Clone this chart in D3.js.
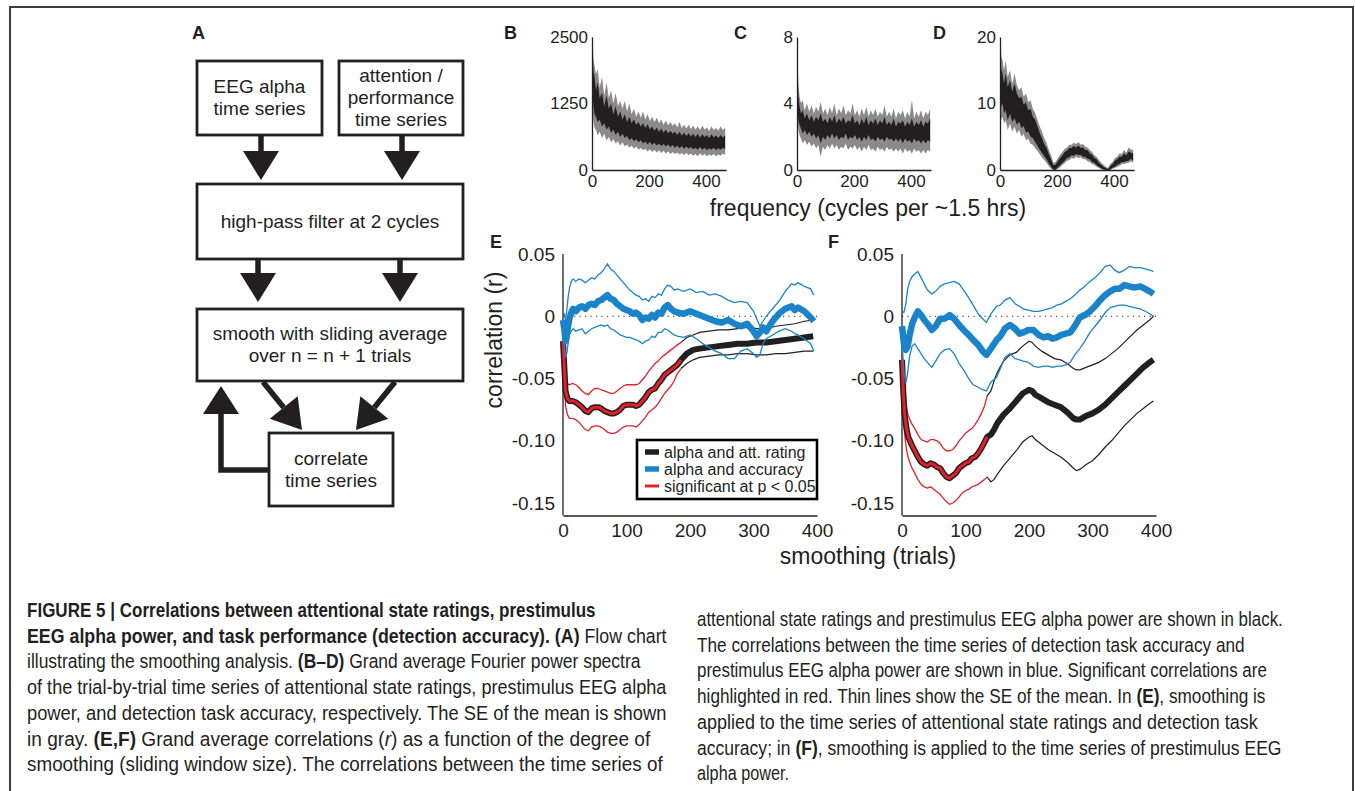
<!DOCTYPE html>
<html>
<head>
<meta charset="utf-8">
<script src="https://cdnjs.cloudflare.com/ajax/libs/d3/7.8.5/d3.min.js"></script>
<style>
  body { margin: 0; background: #fff; }
  svg { display: block; font-family: "Liberation Sans", Arial, sans-serif; }
</style>
</head>
<body>
<script>
// ---- spectra (B-D): frequency samples and envelopes (gray = SE, black = mean band)
var specFreq = [0, 2, 5, 9, 14, 20, 27, 35, 43, 51, 59, 67, 75, 83, 91, 99, 107, 115, 123, 131, 139, 147, 155, 163, 171, 179, 187, 195, 203, 211,
                219, 227, 235, 243, 251, 259, 267, 275, 283, 291, 299, 307, 315, 323, 331, 339, 347, 355, 363, 371, 379, 387, 395, 403, 411,
                419, 427, 435, 443, 451, 459, 467];

var bGrayHi  = [2500, 2450, 2100, 1950, 1800, 1900, 1550, 1750, 1400, 1650, 1350, 1500, 1250, 1450, 1200, 1300, 1150, 1300, 1100, 1250,
                1050, 1150, 1000, 1100, 980, 1100, 950, 1050, 920, 1000, 900, 980, 880, 950, 850, 930, 840, 900, 830, 880,
                800, 900, 790, 850, 780, 850, 770, 830, 760, 820, 750, 830, 760, 800, 740, 820, 750, 790, 740, 820, 750, 800];
var bBlackHi = [2450, 2250, 1850, 1750, 1500, 1650, 1350, 1450, 1200, 1400, 1150, 1250, 1050, 1200, 1000, 1100, 950, 1050, 900, 1000,
                880, 950, 850, 900, 820, 880, 790, 860, 760, 820, 740, 800, 720, 780, 700, 760, 690, 740, 680, 720,
                660, 720, 650, 700, 640, 690, 630, 680, 620, 680, 610, 670, 620, 660, 600, 670, 610, 650, 600, 660, 610, 650];
var bBlackLo = [1900, 1500, 1200, 1050, 1000, 900, 950, 820, 880, 760, 820, 700, 760, 660, 720, 620, 680, 600, 640, 560,
                600, 540, 580, 520, 560, 500, 540, 480, 530, 470, 510, 460, 500, 450, 490, 440, 480, 430, 470, 420,
                460, 410, 450, 400, 440, 400, 430, 390, 420, 380, 430, 380, 420, 370, 410, 380, 420, 370, 410, 380, 420, 390];
var bGrayLo  = [1600, 1200, 900, 800, 750, 650, 720, 600, 680, 560, 620, 520, 580, 500, 540, 460, 520, 440, 480, 420,
                460, 400, 440, 380, 420, 370, 400, 350, 390, 340, 380, 330, 370, 320, 360, 310, 350, 300, 340, 300,
                330, 290, 320, 280, 320, 280, 310, 270, 300, 260, 310, 270, 300, 260, 290, 270, 300, 260, 290, 270, 310, 280];

var cGrayHi  = [8, 6.5, 5.2, 4.4, 4.0, 4.2, 3.6, 4.0, 3.5, 3.9, 3.4, 3.8, 3.5, 4.1, 3.4, 3.7, 3.3, 3.8, 3.4, 4.0,
                3.3, 3.7, 3.4, 3.9, 3.3, 3.6, 3.4, 4.0, 3.3, 3.6, 3.2, 3.7, 3.3, 3.8, 3.2, 3.6, 3.3, 3.7, 3.2, 3.5,
                3.3, 3.9, 3.2, 3.5, 3.2, 3.7, 3.1, 3.5, 3.3, 3.6, 3.1, 3.5, 3.2, 4.2, 3.1, 3.5, 3.2, 3.6, 3.1, 3.5, 3.3, 3.7];
var cBlackHi = [7.8, 5.6, 4.4, 3.8, 3.4, 3.6, 3.1, 3.4, 3.0, 3.3, 2.9, 3.2, 3.0, 3.4, 2.9, 3.1, 2.8, 3.2, 2.9, 3.3,
                2.8, 3.1, 2.9, 3.2, 2.8, 3.0, 2.9, 3.3, 2.8, 3.0, 2.7, 3.1, 2.8, 3.2, 2.7, 3.0, 2.8, 3.1, 2.7, 3.0,
                2.8, 3.2, 2.7, 2.9, 2.7, 3.1, 2.6, 2.9, 2.8, 3.0, 2.6, 2.9, 2.7, 3.1, 2.6, 2.9, 2.7, 3.0, 2.6, 2.9, 2.8, 3.1];
var cBlackLo = [5.5, 3.8, 3.0, 2.7, 2.5, 2.2, 2.4, 2.1, 2.3, 2.0, 2.2, 1.9, 2.1, 1.6, 2.0, 1.8, 2.1, 1.9, 2.2, 1.9,
                2.1, 1.8, 2.0, 1.9, 2.2, 1.8, 2.0, 1.9, 2.1, 1.8, 2.0, 1.7, 2.0, 1.8, 2.1, 1.8, 1.9, 1.7, 2.0, 1.8,
                1.9, 1.7, 2.0, 1.8, 1.9, 1.7, 1.9, 1.7, 1.9, 1.6, 1.9, 1.7, 1.8, 1.6, 1.9, 1.7, 1.8, 1.6, 1.8, 1.6, 1.8, 1.7];
var cGrayLo  = [4.5, 3.0, 2.4, 2.1, 1.9, 1.6, 1.8, 1.5, 1.7, 1.4, 1.6, 1.3, 1.5, 0.8, 1.4, 1.2, 1.5, 1.3, 1.6, 1.3,
                1.5, 1.2, 1.4, 1.3, 1.6, 1.2, 1.4, 1.3, 1.5, 1.2, 1.4, 1.1, 1.4, 1.2, 1.5, 1.2, 1.3, 1.1, 1.4, 1.2,
                1.3, 1.1, 1.4, 1.2, 1.3, 1.1, 1.3, 1.1, 1.3, 1.0, 1.3, 1.1, 1.2, 1.0, 1.3, 1.1, 1.2, 1.0, 1.2, 1.0, 1.2, 1.1];

var dGrayHi  = [20, 19, 17, 16.5, 15, 16.5, 14, 15, 13, 14.5, 12.8, 12, 12.5, 11, 11.5, 10.2, 10.5, 9.2, 8.6, 7.6,
                6.6, 5.8, 4.8, 4.1, 3.1, 2.2, 1.1, 1.2, 1.8, 2.3, 2.7, 3.2, 3.4, 3.8, 3.8, 4.1, 3.9, 4.2, 3.8, 3.9,
                3.5, 3.4, 3.0, 2.7, 2.2, 2.0, 1.5, 1.1, 0.8, 0.5, 0.3, 0.9, 1.2, 1.8, 2.0, 2.5, 2.4, 3.0, 2.6, 3.4, 3.1, 3.0];
var dBlackHi = [19.5, 17, 15, 14.5, 13, 14.5, 12.5, 13.5, 11.8, 13, 11.5, 10.8, 11, 9.8, 10.2, 9, 9.2, 8, 7.6, 6.6,
                5.6, 4.8, 3.9, 3.3, 2.4, 1.6, 0.7, 0.8, 1.3, 1.8, 2.2, 2.7, 2.9, 3.3, 3.3, 3.6, 3.4, 3.7, 3.3, 3.4,
                3.0, 3.0, 2.5, 2.3, 1.8, 1.6, 1.1, 0.8, 0.5, 0.3, 0.15, 0.6, 0.9, 1.4, 1.6, 2.0, 2.0, 2.5, 2.2, 2.8, 2.6, 2.5];
var dBlackLo = [13, 11.5, 9.5, 10, 8.5, 9, 7.5, 8.5, 7.2, 7.8, 6.8, 7.3, 6.3, 6.6, 5.6, 5.8, 5.0, 4.8, 4.2, 3.7,
                3.1, 2.6, 2.1, 1.6, 1.0, 0.5, 0.05, 0.05, 0.4, 0.7, 1.1, 1.4, 1.8, 1.9, 2.2, 2.1, 2.4, 2.2, 2.3, 2.0,
                2.0, 1.7, 1.6, 1.2, 1.1, 0.7, 0.5, 0.25, 0.1, 0.05, 0, 0.1, 0.35, 0.5, 0.8, 0.9, 1.2, 1.2, 1.3, 1.4, 1.7, 1.4];
var dGrayLo  = [10, 9, 7.5, 8, 7, 7.5, 6, 7, 5.8, 6.5, 5.5, 6, 5.0, 5.4, 4.5, 4.7, 4.0, 3.8, 3.3, 2.9,
                2.4, 1.9, 1.5, 1.1, 0.6, 0.2, 0, 0, 0.2, 0.4, 0.8, 1.0, 1.4, 1.5, 1.8, 1.7, 2.0, 1.8, 1.9, 1.6,
                1.6, 1.3, 1.2, 0.9, 0.8, 0.5, 0.3, 0.1, 0, 0, 0, 0, 0.2, 0.3, 0.5, 0.6, 0.9, 0.9, 1.0, 1.1, 1.3, 1.1];

// ---- E: correlation vs smoothing (smoothing applied to ratings / accuracy)
var eAttTrials = [0, 2, 4, 7, 10, 15, 20, 25, 30, 35, 40, 45, 50, 55, 60, 65, 70, 75, 80, 85, 90, 95, 100, 105, 110, 115, 120, 125,
                  130, 135, 140, 145, 150, 155, 160, 165, 170, 175, 180, 186, 195, 205, 215, 230, 245, 260, 275, 290, 305, 320, 335, 350, 365, 380, 394];
var eAttMean = [-0.020, -0.040, -0.060, -0.066, -0.068, -0.068, -0.069, -0.071, -0.073, -0.076, -0.077, -0.074, -0.073, -0.073, -0.074, -0.076, -0.077, -0.078, -0.078, -0.077, -0.075, -0.072, -0.071, -0.071, -0.071, -0.072, -0.071, -0.068,
                -0.065, -0.061, -0.059, -0.058, -0.054, -0.051, -0.047, -0.045, -0.043, -0.041, -0.039, -0.035, -0.030, -0.027, -0.026, -0.025, -0.024, -0.023, -0.022, -0.022, -0.021, -0.021, -0.020, -0.019, -0.018, -0.017, -0.016];
var eAttHi = [-0.018, -0.035, -0.050, -0.054, -0.055, -0.054, -0.055, -0.057, -0.060, -0.062, -0.063, -0.060, -0.058, -0.058, -0.059, -0.060, -0.061, -0.062, -0.062, -0.060, -0.058, -0.056, -0.055, -0.055, -0.055, -0.055, -0.054, -0.051,
              -0.048, -0.044, -0.041, -0.038, -0.036, -0.033, -0.031, -0.029, -0.027, -0.025, -0.023, -0.021, -0.017, -0.015, -0.013, -0.012, -0.011, -0.011, -0.010, -0.009, -0.010, -0.010, -0.008, -0.007, -0.006, -0.004, -0.003];
var eAttLo = [-0.022, -0.048, -0.072, -0.079, -0.082, -0.082, -0.083, -0.085, -0.088, -0.091, -0.092, -0.089, -0.088, -0.088, -0.089, -0.091, -0.093, -0.094, -0.094, -0.093, -0.091, -0.089, -0.088, -0.088, -0.088, -0.089, -0.087, -0.084,
              -0.081, -0.077, -0.075, -0.073, -0.070, -0.066, -0.062, -0.059, -0.056, -0.052, -0.046, -0.042, -0.038, -0.035, -0.033, -0.032, -0.031, -0.031, -0.030, -0.030, -0.031, -0.031, -0.030, -0.030, -0.029, -0.028, -0.028];
var eSigEnd = 186;

var eAccTrials = [0, 2, 4, 6, 8, 10, 13, 16, 20, 25, 30, 35, 40, 45, 50, 55, 60, 65, 70, 75, 80, 85, 90, 95, 100, 105, 110, 115, 120, 125, 130, 135, 140, 145,
                  150, 155, 160, 165, 170, 175, 180, 190, 200, 210, 220, 230, 240, 250, 260, 270, 280, 290, 300, 305, 310, 315, 320, 330, 340, 350, 360, 365, 370, 380, 390, 395];
var eAccMean = [-0.003, -0.010, -0.020, -0.015, -0.008, -0.002, 0.003, 0.006, 0.004, 0.007, 0.008, 0.006, 0.009, 0.010, 0.009, 0.012, 0.013, 0.015, 0.017, 0.014, 0.013, 0.010, 0.008, 0.006, 0.005, 0.004, 0.002, 0.003, 0.001, -0.003, -0.001, -0.002, 0.001, -0.001,
                0.003, 0.002, 0.007, 0.009, 0.006, 0.004, 0.003, 0.002, 0.004, 0.002, 0.000, -0.002, -0.004, -0.005, -0.003, -0.006, -0.008, -0.006, -0.012, -0.016, -0.013, -0.009, -0.012, -0.004, 0.002, 0.006, 0.008, 0.005, 0.007, 0.004, -0.001, -0.004];
var eAccHi = [0.003, 0.002, -0.003, 0.005, 0.015, 0.022, 0.028, 0.030, 0.028, 0.030, 0.029, 0.027, 0.029, 0.031, 0.030, 0.033, 0.035, 0.038, 0.042, 0.038, 0.036, 0.033, 0.030, 0.027, 0.024, 0.021, 0.019, 0.017, 0.016, 0.013, 0.014, 0.012, 0.016, 0.015,
              0.018, 0.017, 0.022, 0.025, 0.024, 0.021, 0.022, 0.020, 0.022, 0.019, 0.020, 0.017, 0.018, 0.016, 0.013, 0.011, 0.012, 0.011, 0.004, -0.002, -0.008, -0.004, 0.000, 0.006, 0.012, 0.020, 0.026, 0.025, 0.027, 0.024, 0.022, 0.017];
var eAccLo = [-0.006, -0.020, -0.032, -0.030, -0.022, -0.015, -0.012, -0.010, -0.012, -0.011, -0.010, -0.014, -0.012, -0.010, -0.009, -0.008, -0.007, -0.008, -0.007, -0.010, -0.011, -0.013, -0.015, -0.016, -0.017, -0.017, -0.018, -0.019, -0.020, -0.022, -0.020, -0.019, -0.016, -0.017,
              -0.013, -0.013, -0.010, -0.011, -0.013, -0.015, -0.016, -0.017, -0.015, -0.018, -0.022, -0.025, -0.028, -0.030, -0.034, -0.034, -0.028, -0.026, -0.030, -0.033, -0.031, -0.022, -0.018, -0.015, -0.012, -0.010, -0.012, -0.014, -0.015, -0.018, -0.022, -0.028];

// ---- F: correlation vs smoothing (smoothing applied to alpha power)
var fAttTrials = [0, 2, 4, 7, 10, 15, 20, 25, 30, 35, 40, 45, 50, 55, 60, 65, 70, 75, 80, 85, 90, 95, 100, 105, 110, 115, 120, 125, 130, 134,
                  140, 145, 150, 160, 170, 180, 190, 200, 205, 210, 220, 230, 240, 250, 260, 270, 275, 280, 290, 300, 310, 320, 330, 340, 350, 360, 370, 380, 390, 396];
var fAttMean = [-0.035, -0.060, -0.078, -0.090, -0.097, -0.103, -0.108, -0.113, -0.117, -0.119, -0.120, -0.118, -0.119, -0.121, -0.122, -0.126, -0.129, -0.130, -0.128, -0.126, -0.122, -0.120, -0.118, -0.117, -0.114, -0.113, -0.110, -0.106, -0.101, -0.097,
                -0.095, -0.091, -0.086, -0.079, -0.074, -0.068, -0.062, -0.059, -0.060, -0.063, -0.066, -0.069, -0.071, -0.073, -0.077, -0.082, -0.083, -0.083, -0.080, -0.078, -0.075, -0.071, -0.066, -0.061, -0.056, -0.051, -0.046, -0.041, -0.037, -0.035];
var fAttHi = [-0.030, -0.048, -0.062, -0.073, -0.080, -0.086, -0.090, -0.095, -0.099, -0.100, -0.101, -0.099, -0.099, -0.100, -0.102, -0.106, -0.108, -0.108, -0.107, -0.104, -0.100, -0.097, -0.094, -0.092, -0.090, -0.087, -0.083, -0.078, -0.072, -0.064,
              -0.060, -0.052, -0.045, -0.036, -0.031, -0.029, -0.024, -0.020, -0.021, -0.024, -0.028, -0.031, -0.034, -0.035, -0.038, -0.042, -0.043, -0.043, -0.041, -0.039, -0.037, -0.034, -0.030, -0.026, -0.021, -0.016, -0.011, -0.007, -0.003, 0.000];
var fAttLo = [-0.040, -0.072, -0.094, -0.107, -0.114, -0.121, -0.126, -0.131, -0.135, -0.137, -0.138, -0.137, -0.139, -0.141, -0.143, -0.146, -0.149, -0.151, -0.150, -0.148, -0.145, -0.142, -0.140, -0.139, -0.137, -0.136, -0.135, -0.133, -0.131, -0.129,
              -0.133, -0.131, -0.127, -0.120, -0.114, -0.108, -0.101, -0.097, -0.096, -0.099, -0.103, -0.107, -0.110, -0.113, -0.117, -0.122, -0.124, -0.123, -0.119, -0.116, -0.111, -0.105, -0.100, -0.094, -0.088, -0.083, -0.078, -0.074, -0.070, -0.068];
var fSigEnd = 134;

var fAccTrials = [0, 3, 6, 9, 12, 16, 20, 25, 30, 35, 40, 47, 53, 60, 67, 75, 82, 90, 97, 105, 112, 120, 127, 133, 140, 149, 155, 162, 170, 178,
                  185, 191, 199, 207, 215, 223, 230, 237, 244, 251, 258, 265, 272, 280, 288, 296, 304, 312, 320, 328, 335, 342, 350, 358, 366, 375, 383, 390, 396];
var fAccMean = [-0.008, -0.022, -0.027, -0.024, -0.015, -0.006, -0.001, 0.004, 0.001, -0.003, -0.006, -0.011, -0.008, -0.002, -0.002, 0.001, -0.002, -0.007, -0.011, -0.015, -0.019, -0.023, -0.028, -0.031, -0.026, -0.019, -0.016, -0.010, -0.007, -0.010,
                -0.014, -0.013, -0.011, -0.011, -0.015, -0.017, -0.016, -0.018, -0.017, -0.015, -0.014, -0.013, -0.008, -0.001, 0.001, 0.004, 0.008, 0.013, 0.017, 0.020, 0.022, 0.022, 0.025, 0.024, 0.023, 0.024, 0.022, 0.020, 0.018];
var fAccHi = [0.004, 0.003, 0.010, 0.022, 0.028, 0.032, 0.034, 0.036, 0.031, 0.026, 0.021, 0.018, 0.020, 0.024, 0.026, 0.027, 0.028, 0.026, 0.021, 0.015, 0.009, 0.002, -0.002, -0.005, 0.002, 0.008, 0.009, 0.013, 0.015, 0.010,
              0.008, 0.006, 0.005, 0.004, 0.004, 0.005, 0.006, 0.007, 0.009, 0.010, 0.012, 0.014, 0.017, 0.021, 0.024, 0.028, 0.031, 0.035, 0.040, 0.041, 0.037, 0.035, 0.037, 0.040, 0.039, 0.039, 0.038, 0.037, 0.036];
var fAccLo = [-0.020, -0.045, -0.054, -0.045, -0.032, -0.024, -0.022, -0.026, -0.030, -0.034, -0.037, -0.041, -0.036, -0.030, -0.027, -0.026, -0.030, -0.038, -0.043, -0.050, -0.055, -0.057, -0.059, -0.060, -0.053, -0.049, -0.042, -0.033, -0.030, -0.034,
              -0.035, -0.036, -0.037, -0.040, -0.041, -0.040, -0.040, -0.041, -0.040, -0.040, -0.039, -0.037, -0.031, -0.026, -0.020, -0.013, -0.008, -0.003, 0.003, 0.007, 0.008, 0.009, 0.009, 0.008, 0.007, 0.006, 0.004, 0.002, 0.000];

var rTicks = [0.05, 0, -0.05, -0.10, -0.15];
var trialTicks = [0, 100, 200, 300, 400];
var freqTicks = [0, 200, 400];
var legendLabels = ["alpha and att. rating", "alpha and accuracy", "significant at p < 0.05"];

var INK = "#231f20", BLUE = "#1b84c8", RED = "#e3202a", GRAY = "#8a8a8a";

var svg = d3.select("body").append("svg").attr("width", 1355).attr("height", 791);
svg.append("rect").attr("width", 1355).attr("height", 791).attr("fill", "#fff");
// frame
svg.append("rect").attr("x", 10).attr("y", 7).attr("width", 1343).attr("height", 820)
    .attr("fill", "none").attr("stroke", "#3c3c3c").attr("stroke-width", 2);

// ================= A: flow chart =================
var fc = svg.append("g");
function box(x, y, w, h, lines) {
    fc.append("rect").attr("x", x).attr("y", y).attr("width", w).attr("height", h)
        .attr("fill", "#fff").attr("stroke", INK).attr("stroke-width", 2.8);
    var lh = 22, cy = y + h / 2;
    lines.forEach(function(t, i) {
        fc.append("text").attr("x", x + w / 2).attr("y", cy + (i - (lines.length - 1) / 2) * lh)
            .attr("dy", "0.34em").attr("text-anchor", "middle")
            .attr("font-size", 19).attr("fill", INK).text(t);
    });
}
function arrow(x1, y1, x2, y2) {
    var dx = x2 - x1, dy = y2 - y1, len = Math.sqrt(dx * dx + dy * dy);
    var ux = dx / len, uy = dy / len, hl = 29, hw = 18;
    var bx = x2 - ux * hl, by = y2 - uy * hl;
    fc.append("line").attr("x1", x1).attr("y1", y1).attr("x2", bx).attr("y2", by)
        .attr("stroke", INK).attr("stroke-width", 5.5);
    fc.append("path").attr("fill", INK)
        .attr("d", "M" + x2 + "," + y2 + "L" + (bx - uy * hw) + "," + (by + ux * hw) +
                   "L" + (bx + uy * hw) + "," + (by - ux * hw) + "Z");
}
box(197, 61, 125, 74, ["EEG alpha", "time series"]);
box(339, 61, 124, 74, ["attention /", "performance", "time series"]);
box(197, 184, 266, 75, ["high-pass filter at 2 cycles"]);
box(197, 309, 266, 72, ["smooth with sliding average", "over n = n + 1 trials"]);
box(269, 433, 124, 73, ["correlate", "time series"]);
arrow(261, 135, 261, 180);
arrow(402, 135, 402, 180);
arrow(258, 259, 258, 302);
arrow(400, 259, 400, 302);
arrow(263, 382, 302, 430);
arrow(395, 382, 356, 430);
fc.append("path").attr("fill", "none").attr("stroke", INK).attr("stroke-width", 5.5)
    .attr("d", "M269,470L221,470L221,410");
fc.append("path").attr("fill", INK).attr("d", "M221,386L239,414L203,414Z");

function panelLabel(t, x, y) {
    svg.append("text").attr("x", x).attr("y", y).attr("font-size", 18).attr("font-weight", "bold")
        .attr("fill", INK).text(t);
}
panelLabel("A", 192, 39);

// ================= B-D: spectra =================
var spectra = [
    {lab: "B", lx: 504, ax: 592, max: 2500, hi: bGrayHi, bhi: bBlackHi, blo: bBlackLo, lo: bGrayLo},
    {lab: "C", lx: 734, ax: 797, max: 8, hi: cGrayHi, bhi: cBlackHi, blo: cBlackLo, lo: cGrayLo},
    {lab: "D", lx: 933, ax: 1000, max: 20, hi: dGrayHi, bhi: dBlackHi, blo: dBlackLo, lo: dGrayLo}
];
spectra.forEach(function(p) {
    var x = d3.scaleLinear().domain([0, 470]).range([p.ax, p.ax + 134]);
    var y = d3.scaleLinear().domain([0, p.max]).range([170, 37]);
    var g = svg.append("g");
    var idx = d3.range(specFreq.length);
    g.append("path").datum(idx).attr("fill", GRAY)
        .attr("d", d3.area().x(function(i) { return x(specFreq[i]); })
            .y0(function(i) { return y(p.lo[i]); }).y1(function(i) { return y(p.hi[i]); }));
    g.append("path").datum(idx).attr("fill", INK)
        .attr("d", d3.area().x(function(i) { return x(specFreq[i]); })
            .y0(function(i) { return y(p.blo[i]); }).y1(function(i) { return y(p.bhi[i]); }));
    var ya = g.append("g").attr("transform", "translate(" + p.ax + ",0)")
        .call(d3.axisLeft(y).tickValues([0, p.max / 2, p.max]).tickSize(0).tickPadding(4)
              .tickFormat(d3.format("d")));
    var xa = g.append("g").attr("transform", "translate(0,170)")
        .call(d3.axisBottom(x).tickValues(freqTicks).tickSize(0).tickPadding(5));
    [ya, xa].forEach(function(a) {
        a.select(".domain").attr("stroke", INK).attr("stroke-width", 1.3);
        a.selectAll("text").attr("font-size", 17).attr("fill", INK)
            .attr("font-family", "Liberation Sans, Arial, sans-serif");
    });
    panelLabel(p.lab, p.lx, 39);
});
svg.append("text").attr("x", 868).attr("y", 216).attr("text-anchor", "middle")
    .attr("font-size", 23).attr("fill", INK).text("frequency (cycles per ~1.5 hrs)");

// ================= E, F: correlation vs smoothing =================
function pts(tr, v) { return tr.map(function(t, i) { return [t, v[i]]; }); }
var corrPanels = [
    {lab: "E", lx: 490, ax: 563, att: [eAttTrials, eAttMean, eAttHi, eAttLo], sig: eSigEnd,
     acc: [eAccTrials, eAccMean, eAccHi, eAccLo]},
    {lab: "F", lx: 828, ax: 902, att: [fAttTrials, fAttMean, fAttHi, fAttLo], sig: fSigEnd,
     acc: [fAccTrials, fAccMean, fAccHi, fAccLo]}
];
corrPanels.forEach(function(p) {
    var x = d3.scaleLinear().domain([0, 400]).range([p.ax, p.ax + 254]);
    var y = d3.scaleLinear().domain([-0.16, 0.05]).range([515.5, 254]);
    var line = d3.line().x(function(d) { return x(d[0]); }).y(function(d) { return y(d[1]); });
    var g = svg.append("g");

    var ya = g.append("g").attr("transform", "translate(" + p.ax + ",0)")
        .call(d3.axisLeft(y).tickValues(rTicks).tickSize(0).tickPadding(8)
              .tickFormat(function(d) { return d === 0 ? "0" : d.toFixed(2); }));
    ya.select(".domain").attr("d", "M0," + y(0.05) + "V515.5");
    var xa = g.append("g").attr("transform", "translate(0,515.5)")
        .call(d3.axisBottom(x).tickValues(trialTicks).tickSize(0).tickPadding(8));
    [ya, xa].forEach(function(a) {
        a.select(".domain").attr("stroke", INK).attr("stroke-width", 1.3);
        a.selectAll("text").attr("font-size", 19).attr("fill", INK)
            .attr("font-family", "Liberation Sans, Arial, sans-serif");
    });

    g.append("line").attr("x1", x(0)).attr("x2", x(400)).attr("y1", y(0)).attr("y2", y(0))
        .attr("stroke", INK).attr("stroke-width", 1.2).attr("stroke-dasharray", "1.2,4.3");

    var a = p.att;
    var mean = pts(a[0], a[1]), hi = pts(a[0], a[2]), lo = pts(a[0], a[3]);
    var after = function(d) { return d[0] >= p.sig; }, before = function(d) { return d[0] <= p.sig; };
    [hi, lo].forEach(function(s) {
        g.append("path").attr("d", line(s.filter(after))).attr("fill", "none")
            .attr("stroke", INK).attr("stroke-width", 1.2);
        g.append("path").attr("d", line(s.filter(before))).attr("fill", "none")
            .attr("stroke", RED).attr("stroke-width", 1.3);
    });
    g.append("path").attr("d", line(mean)).attr("fill", "none").attr("stroke", INK)
        .attr("stroke-width", 6).attr("stroke-linejoin", "round");
    g.append("path").attr("d", line(mean.filter(before))).attr("fill", "none").attr("stroke", RED)
        .attr("stroke-width", 3).attr("stroke-linejoin", "round");

    var b = p.acc;
    [b[2], b[3]].forEach(function(v) {
        g.append("path").attr("d", line(pts(b[0], v))).attr("fill", "none")
            .attr("stroke", BLUE).attr("stroke-width", 1.3);
    });
    g.append("path").attr("d", line(pts(b[0], b[1]))).attr("fill", "none").attr("stroke", BLUE)
        .attr("stroke-width", 6.5).attr("stroke-linejoin", "round");

    panelLabel(p.lab, p.lx, 248);
});

svg.append("text").attr("transform", "translate(502,340) rotate(-90)").attr("text-anchor", "middle")
    .attr("font-size", 23).attr("fill", INK).text("correlation (r)");
svg.append("text").attr("x", 868).attr("y", 564).attr("text-anchor", "middle")
    .attr("font-size", 23).attr("fill", INK).text("smoothing (trials)");

// legend (in E)
var lg = svg.append("g").attr("transform", "translate(637,440)");
lg.append("rect").attr("width", 180).attr("height", 59).attr("fill", "#fff")
    .attr("stroke", "#000").attr("stroke-width", 2.6);
[INK, BLUE, RED].forEach(function(c, i) {
    lg.append("line").attr("x1", 8).attr("x2", 22).attr("y1", 12 + i * 17).attr("y2", 12 + i * 17)
        .attr("stroke", c).attr("stroke-width", i === 2 ? 3 : 5.5);
    lg.append("text").attr("x", 27).attr("y", 12 + i * 17).attr("dy", "0.35em")
        .attr("font-size", 16).attr("fill", INK).text(legendLabels[i]);
});

// ================= caption =================
var capLeft = [
    [["b", "FIGURE 5 | Correlations between attentional state ratings, prestimulus"]],
    [["b", "EEG alpha power, and task performance (detection accuracy). (A)"], ["", " Flow chart"]],
    [["", "illustrating the smoothing analysis. "], ["b", "(B–D)"], ["", " Grand average Fourier power spectra"]],
    [["", "of the trial-by-trial time series of attentional state ratings, prestimulus EEG alpha"]],
    [["", "power, and detection task accuracy, respectively. The SE of the mean is shown"]],
    [["", "in gray. "], ["b", "(E,F)"], ["", " Grand average correlations ("], ["i", "r"], ["", ") as a function of the degree of"]],
    [["", "smoothing (sliding window size). The correlations between the time series of"]]
];
var capLeftEnd = [596, 667, 641, 667, 667, 651, 663];
var capRight = [
    [["", "attentional state ratings and prestimulus EEG alpha power are shown in black."]],
    [["", "The correlations between the time series of detection task accuracy and"]],
    [["", "prestimulus EEG alpha power are shown in blue. Significant correlations are"]],
    [["", "highlighted in red. Thin lines show the SE of the mean. In "], ["b", "(E)"], ["", ", smoothing is"]],
    [["", "applied to the time series of attentional state ratings and detection task"]],
    [["", "accuracy; in "], ["b", "(F)"], ["", ", smoothing is applied to the time series of prestimulus EEG"]],
    [["", "alpha power."]]
];
var capRightEnd = [1283, 1245, 1267, 1266, 1258, 1282, 789];

// condensed look: each line is squeezed horizontally to the width seen in the figure
function caption(lines, ends, x0, y0) {
    lines.forEach(function(segs, i) {
        var t = svg.append("text").attr("x", 0).attr("y", 0)
            .attr("font-size", 19.5).attr("fill", INK)
            .attr("font-family", "'Liberation Sans', Arial, sans-serif");
        segs.forEach(function(s) {
            var sp = t.append("tspan").text(s[1]);
            if (s[0] === "b") sp.attr("font-weight", "bold");
            if (s[0] === "i") sp.attr("font-style", "italic");
        });
        var w = t.node().getComputedTextLength();
        var sx = (ends[i] - x0) / w;
        t.attr("transform", "translate(" + x0 + "," + (y0 + i * 25.7) + ") scale(" + sx + ",1)");
    });
}
caption(capLeft, capLeftEnd, 27, 617);
caption(capRight, capRightEnd, 697, 626);
</script>
</body>
</html>
